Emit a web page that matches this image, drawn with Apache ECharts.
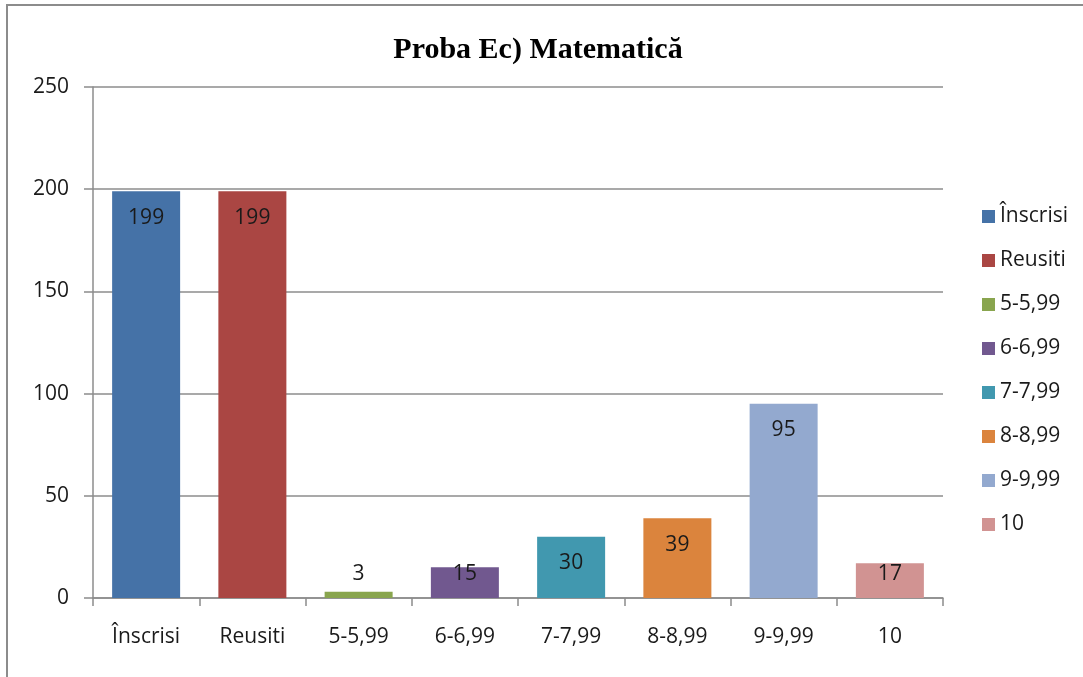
<!DOCTYPE html>
<html>
<head>
<meta charset="utf-8">
<title>Proba Ec) Matematică</title>
<script src="https://cdn.jsdelivr.net/npm/echarts@6/dist/echarts.min.js"></script>
<style>
  html, body { margin: 0; padding: 0; background: #fff; }
  #chart { width: 1083px; height: 677px; }
</style>
</head>
<body>
<div id="chart"></div>
<script>
// date
var categories = ["Înscrisi", "Reusiti", "5-5,99", "6-6,99", "7-7,99", "8-8,99", "9-9,99", "10"];
var values = [199, 199, 3, 15, 30, 39, 95, 17];
var colors = ["#4572A7", "#AA4643", "#89A54E", "#71588F", "#4198AF", "#DB843D", "#93A9CF", "#D19392"];
var yTicks = [0, 50, 100, 150, 200, 250];

var font = "'Open Sans', 'Noto Sans', sans-serif";

// o serie pe categorie, ca legenda sa arate fiecare bara
var series = categories.map(function (name, i) {
  var data = categories.map(function (c, j) {
    if (j !== i) return "-";
    var item = { value: values[j] };
    // barele mici: eticheta ramane deasupra axei
    if (values[j] < 25) {
      item.label = { position: "insideBottom", distance: 13 };
    }
    return item;
  });
  return {
    name: name,
    type: "bar",
    stack: "all",
    barWidth: "64%",
    itemStyle: { color: colors[i] },
    label: {
      show: true,
      position: "insideTop",
      distance: 16,
      color: "#1a1a1a",
      fontFamily: font,
      fontSize: 21,
      lineHeight: 21
    },
    data: data
  };
});

var chart = echarts.init(document.getElementById("chart"));
chart.setOption({
  animation: false,
  backgroundColor: "#fff",
  title: {
    text: "Proba Ec) Matematică",
    left: 533,
    top: 30,
    textAlign: "center",
    textStyle: {
      fontFamily: "'Liberation Serif', 'DejaVu Serif', serif",
      fontWeight: "bold",
      fontSize: 30,
      color: "#000"
    }
  },
  graphic: [{
    type: "rect",
    shape: { x: 7, y: 5, width: 1200, height: 800 },
    style: { fill: "none", stroke: "#8c8c8c", lineWidth: 2 },
    silent: true
  }],
  legend: {
    orient: "vertical",
    left: 977,
    top: 201,
    itemWidth: 13,
    itemHeight: 13,
    itemGap: 23,
    icon: "rect",
    textStyle: { fontFamily: font, fontSize: 21, lineHeight: 21, color: "#1a1a1a" },
    data: categories
  },
  grid: { left: 93, right: 140, top: 87, bottom: 79 },
  xAxis: {
    type: "category",
    data: categories,
    axisLine: { lineStyle: { color: "#8c8c8c", width: 1.5 } },
    axisTick: { show: true, length: 8, interval: 0, lineStyle: { color: "#8c8c8c", width: 1.5 } },
    axisLabel: { interval: 0, margin: 29, fontFamily: font, fontSize: 21, color: "#1a1a1a" }
  },
  yAxis: {
    type: "value",
    min: yTicks[0],
    max: yTicks[yTicks.length - 1],
    interval: 50,
    axisLine: { show: true, lineStyle: { color: "#8c8c8c", width: 1.5 } },
    axisTick: { show: true, length: 9, lineStyle: { color: "#8c8c8c", width: 1.5 } },
    axisLabel: { margin: 24, fontFamily: font, fontSize: 21, color: "#1a1a1a" },
    splitLine: { lineStyle: { color: "#8c8c8c", width: 1.5 } }
  },
  series: series
});
</script>
</body>
</html>
